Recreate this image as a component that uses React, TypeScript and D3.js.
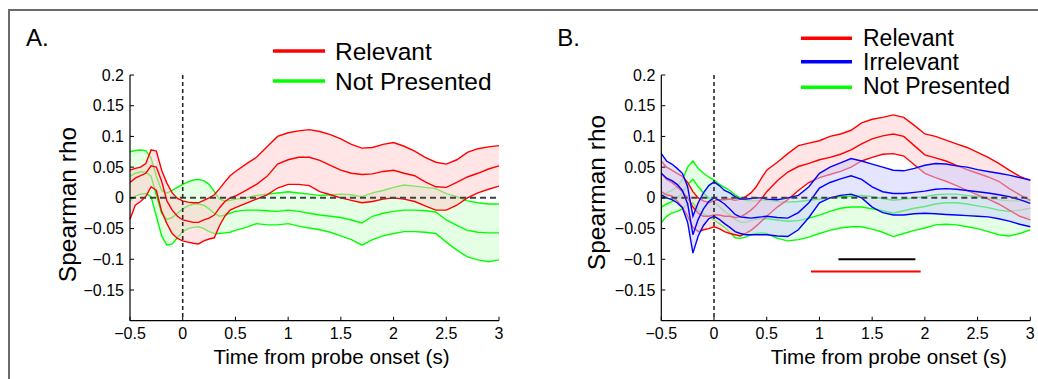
import React from "react";
import * as d3 from "d3";

// time grid (s)
const T = [-0.5,-0.45,-0.4,-0.35,-0.3,-0.25,-0.2,-0.15,-0.1,-0.05,0,0.05,0.1,0.15,0.2,0.25,0.3,0.35,0.4,0.45,0.5,0.6,0.7,0.8,0.9,1.0,1.1,1.2,1.3,1.4,1.5,1.6,1.7,1.8,1.9,2.0,2.1,2.2,2.3,2.4,2.5,2.6,2.7,2.8,2.9,3.0];

// Panel A – Relevant
const aRelHi = [.045,.048,.050,.056,.078,.076,.045,.024,.008,-.001,-.005,-.007,-.008,-.008,-.004,.000,.005,.015,.026,.036,.043,.055,.066,.083,.100,.106,.109,.111,.108,.103,.096,.087,.081,.082,.087,.090,.084,.076,.066,.058,.055,.062,.074,.080,.083,.085];
const aRelMean = [.025,.032,.036,.040,.052,.050,.027,-.005,-.020,-.030,-.036,-.038,-.040,-.040,-.036,-.033,-.028,-.016,-.006,.000,.003,.012,.022,.035,.055,.062,.066,.066,.061,.053,.045,.040,.038,.039,.043,.045,.040,.036,.026,.018,.017,.025,.034,.040,.047,.052];
const aRelLo = [-.035,-.012,-.006,.002,.018,.012,-.022,-.042,-.058,-.066,-.070,-.072,-.074,-.075,-.070,-.067,-.065,-.045,-.030,-.020,-.016,-.009,-.002,.005,.016,.022,.022,.020,.010,.005,.000,-.004,-.008,-.006,-.002,.000,-.002,-.006,-.013,-.020,-.020,-.012,.000,.008,.014,.019];

// Panel A – Not Presented
const aNotHi = [.075,.077,.078,.077,.065,.035,.012,.008,.012,.017,.022,.026,.029,.030,.028,.022,.010,-.002,-.005,-.004,-.002,.000,.004,.006,.008,.010,.008,.006,.004,.005,.006,.005,.002,.008,.012,.017,.021,.019,.017,.015,.007,.002,-.005,-.008,-.010,-.010];
const aNotMean = [.035,.040,.042,.042,.035,.005,-.025,-.035,-.032,-.025,-.018,-.013,-.010,-.010,-.012,-.018,-.025,-.030,-.028,-.025,-.022,-.020,-.020,-.021,-.022,-.020,-.022,-.025,-.028,-.030,-.032,-.036,-.041,-.030,-.025,-.022,-.020,-.020,-.021,-.023,-.036,-.045,-.053,-.056,-.057,-.057];
const aNotLo = [-.005,.003,.006,.007,.002,-.030,-.062,-.077,-.075,-.065,-.055,-.050,-.048,-.047,-.050,-.055,-.058,-.058,-.057,-.056,-.053,-.048,-.042,-.044,-.044,-.042,-.046,-.049,-.052,-.056,-.062,-.068,-.077,-.068,-.062,-.058,-.055,-.055,-.056,-.058,-.072,-.085,-.096,-.101,-.104,-.101];

// Panel B – Relevant
const bRelHi = [.060,.050,.045,.040,.035,.025,.010,.000,-.005,-.008,-.005,-.003,-.003,-.002,-.004,-.002,.002,.008,.018,.032,.045,.058,.072,.085,.089,.093,.100,.104,.110,.122,.128,.131,.135,.131,.118,.104,.100,.094,.088,.082,.074,.066,.056,.045,.035,.028];
const bRelMean = [.040,.030,.025,.018,.010,.000,-.015,-.025,-.030,-.030,-.028,-.028,-.030,-.030,-.032,-.031,-.026,-.020,-.012,-.002,.010,.028,.042,.051,.056,.062,.066,.071,.078,.088,.096,.101,.104,.100,.085,.070,.065,.060,.053,.046,.040,.034,.027,.015,.005,-.004];
const bRelLo = [.010,.005,.003,-.005,-.015,-.030,-.048,-.055,-.052,-.050,-.047,-.050,-.055,-.058,-.060,-.062,-.058,-.053,-.046,-.038,-.030,-.015,-.003,.012,.025,.033,.038,.043,.050,.060,.066,.071,.072,.068,.054,.040,.033,.027,.020,.012,.005,-.002,-.010,-.020,-.030,-.036];

// Panel B – Irrelevant
const bIrrHi = [.072,.060,.055,.048,.040,.018,-.030,-.008,.008,.020,.026,.020,.012,.008,.002,-.002,-.002,-.001,.000,.000,-.002,-.003,.000,.004,.018,.040,.050,.057,.064,.060,.055,.050,.045,.044,.048,.053,.056,.055,.052,.050,.046,.043,.040,.037,.033,.029];
const bIrrMean = [.040,.032,.028,.022,.012,-.010,-.060,-.035,-.018,-.006,.000,-.004,-.010,-.018,-.027,-.031,-.032,-.033,-.032,-.031,-.030,-.032,-.033,-.024,-.008,.016,.025,.031,.036,.030,.018,.010,.007,.007,.009,.011,.014,.015,.014,.012,.010,.008,.005,.002,-.003,-.009];
const bIrrLo = [.005,.000,-.003,-.008,-.016,-.040,-.090,-.062,-.045,-.034,-.030,-.035,-.042,-.048,-.055,-.058,-.060,-.060,-.060,-.060,-.060,-.062,-.063,-.052,-.032,-.008,.000,.004,.006,.000,-.015,-.024,-.028,-.028,-.026,-.025,-.026,-.027,-.028,-.029,-.030,-.031,-.034,-.038,-.043,-.047];

// Panel B – Not Presented
const bNotHi = [.002,.008,.012,.018,.030,.050,.060,.048,.040,.034,.029,.022,.017,.012,.005,.000,-.004,-.005,-.005,-.004,-.004,-.006,-.007,-.006,-.004,-.002,.000,.002,.003,.004,.002,-.001,-.004,-.002,.000,.002,.005,.006,.006,.004,.002,.000,-.003,-.005,-.005,-.004];
const bNotMean = [-.015,-.010,-.006,.000,.008,.022,.030,.018,.008,.000,-.006,-.014,-.022,-.028,-.035,-.040,-.040,-.037,-.035,-.034,-.034,-.036,-.038,-.037,-.033,-.028,-.022,-.017,-.015,-.015,-.018,-.021,-.025,-.021,-.017,-.014,-.010,-.008,-.008,-.010,-.013,-.016,-.020,-.022,-.020,-.017];
const bNotLo = [-.040,-.030,-.025,-.022,-.018,-.010,-.008,-.020,-.026,-.030,-.036,-.042,-.048,-.056,-.065,-.066,-.064,-.060,-.058,-.057,-.058,-.066,-.070,-.068,-.064,-.058,-.053,-.049,-.047,-.047,-.051,-.056,-.063,-.058,-.053,-.049,-.044,-.043,-.044,-.047,-.050,-.055,-.060,-.062,-.058,-.052];

// significance bars in panel B: [start, end] time and y level
const sigBlack = [1.18, 1.91];
const sigBlackY = -0.1;
const sigRed = [0.92, 1.96];
const sigRedY = -0.12;

// axis ticks
const yTicks = [0.2, 0.15, 0.1, 0.05, 0, -0.05, -0.1, -0.15];
const xTicks = [-0.5, 0, 0.5, 1, 1.5, 2, 2.5, 3];

const legendA = ["Relevant", "Not Presented"];
const legendB = ["Relevant", "Irrelevant", "Not Presented"];

const COLORS: Record<string, { line: string; fill: string }> = {
  Relevant: { line: "#ff0000", fill: "#ffcccc" },
  Irrelevant: { line: "#0000ff", fill: "#ccccff" },
  "Not Presented": { line: "#00ff00", fill: "#ccffcc" },
};

const FONT = "'Liberation Sans', Arial, Helvetica, sans-serif";

const fmt = (v: number) => {
  const s = String(Math.abs(v));
  return v < 0 ? "\u2212" + s : s;
};

type Band = { name: string; hi: number[]; mean: number[]; lo: number[] };

function Panel(props: {
  x0: number;
  label: string;
  bands: Band[];
  legend: string[];
  legendLineX: [number, number];
  legendTextX: number;
  legendLineY: number[];
  legendTextY: number[];
  legendFont: number;
  xLabelX: number;
  yLabelX: number;
  yLabelY: number;
  sig?: boolean;
}) {
  const { x0 } = props;
  const x = d3.scaleLinear().domain([-0.5, 3]).range([x0, x0 + 369]);
  const y = d3.scaleLinear().domain([-0.2, 0.2]).range([320.7, 75]);
  const area = (b: Band) =>
    d3
      .area<number>()
      .x((_, i) => x(T[i]))
      .y0((_, i) => y(b.lo[i]))
      .y1((_, i) => y(b.hi[i]))(T) || "";
  const line = (arr: number[]) =>
    d3
      .line<number>()
      .x((_, i) => x(T[i]))
      .y((_, i) => y(arr[i]))(T) || "";
  return (
    <g>
      <text x={x0 - 104} y={46} fontSize={24} fontFamily={FONT}>
        {props.label}
      </text>
      {props.bands.map((b) => (
        <g key={b.name}>
          <path d={area(b)} fill={COLORS[b.name].fill} fillOpacity={0.5} stroke="none" />
          {[b.hi, b.mean, b.lo].map((arr, k) => (
            <path key={k} d={line(arr)} fill="none" stroke={COLORS[b.name].line} strokeWidth={1.4} />
          ))}
        </g>
      ))}
      {/* zero reference lines */}
      <line x1={x(-0.5)} x2={x(3)} y1={y(0)} y2={y(0)} stroke="#404040" strokeWidth={2} strokeDasharray="6,4" />
      <line x1={x(0)} x2={x(0)} y1={y(0.2)} y2={y(-0.2)} stroke="#2a2a2a" strokeWidth={1.6} strokeDasharray="4,3" />
      {props.sig && (
        <g>
          <line x1={x(sigBlack[0])} x2={x(sigBlack[1])} y1={y(sigBlackY)} y2={y(sigBlackY)} stroke="#000" strokeWidth={2} />
          <line x1={x(sigRed[0])} x2={x(sigRed[1])} y1={y(sigRedY)} y2={y(sigRedY)} stroke="#ff0000" strokeWidth={2} />
        </g>
      )}
      {/* axes */}
      <line x1={x(-0.5)} x2={x(-0.5)} y1={y(0.2)} y2={y(-0.2)} stroke="#000" strokeWidth={1.2} />
      <line x1={x(-0.5)} x2={x(3)} y1={y(-0.2)} y2={y(-0.2)} stroke="#000" strokeWidth={1.2} />
      {yTicks.map((t) => (
        <g key={"y" + t}>
          <line x1={x(-0.5)} x2={x(-0.5) + 4} y1={y(t)} y2={y(t)} stroke="#000" strokeWidth={1} />
          <text x={x(-0.5) - 6} y={y(t)} dy="0.35em" textAnchor="end" fontSize={16} fontFamily={FONT}>
            {fmt(t)}
          </text>
        </g>
      ))}
      {xTicks.map((t) => (
        <g key={"x" + t}>
          <line x1={x(t)} x2={x(t)} y1={y(-0.2)} y2={y(-0.2) - 4} stroke="#000" strokeWidth={1} />
          <text x={x(t)} y={339} textAnchor="middle" fontSize={16} fontFamily={FONT}>
            {fmt(t)}
          </text>
        </g>
      ))}
      <text x={props.xLabelX} y={364} textAnchor="middle" fontSize={20.6} fontFamily={FONT}>
        Time from probe onset (s)
      </text>
      <text
        transform={`translate(${props.yLabelX},${props.yLabelY}) rotate(-90)`}
        textAnchor="middle"
        fontSize={24.5}
        fontFamily={FONT}
      >
        Spearman rho
      </text>
      {props.legend.map((name, i) => (
        <g key={"lg" + name}>
          <line
            x1={props.legendLineX[0]}
            x2={props.legendLineX[1]}
            y1={props.legendLineY[i]}
            y2={props.legendLineY[i]}
            stroke={COLORS[name].line}
            strokeWidth={3.5}
          />
          <text x={props.legendTextX} y={props.legendTextY[i]} fontSize={props.legendFont} fontFamily={FONT}>
            {name}
          </text>
        </g>
      ))}
    </g>
  );
}

export default function App() {
  const bandsA: Band[] = [
    { name: "Not Presented", hi: aNotHi, mean: aNotMean, lo: aNotLo },
    { name: "Relevant", hi: aRelHi, mean: aRelMean, lo: aRelLo },
  ];
  const bandsB: Band[] = [
    { name: "Not Presented", hi: bNotHi, mean: bNotMean, lo: bNotLo },
    { name: "Relevant", hi: bRelHi, mean: bRelMean, lo: bRelLo },
    { name: "Irrelevant", hi: bIrrHi, mean: bIrrMean, lo: bIrrLo },
  ];
  return (
    <svg
      width={1038}
      height={379}
      style={{ position: "absolute", left: 0, top: 0, background: "#fff" }}
    >
      <rect x={0} y={0} width={1038} height={379} fill="#fff" />
      <path d="M9,400 V10 H1045" fill="none" stroke="#6a6a6a" strokeWidth={2} />
      <Panel
        x0={130}
        label="A."
        bands={bandsA}
        legend={legendA}
        legendLineX={[273, 325]}
        legendTextX={335}
        legendLineY={[51, 81]}
        legendTextY={[59.5, 89.5]}
        legendFont={24.5}
        xLabelX={331.5}
        yLabelX={76}
        yLabelY={204.5}
      />
      <Panel
        x0={661.3}
        label="B."
        bands={bandsB}
        legend={legendB}
        legendLineX={[801, 852]}
        legendTextX={863}
        legendLineY={[38.3, 61.7, 87.3]}
        legendTextY={[46, 69.5, 94.3]}
        legendFont={23}
        xLabelX={888.8}
        yLabelX={605}
        yLabelY={192.5}
        sig
      />
    </svg>
  );
}
